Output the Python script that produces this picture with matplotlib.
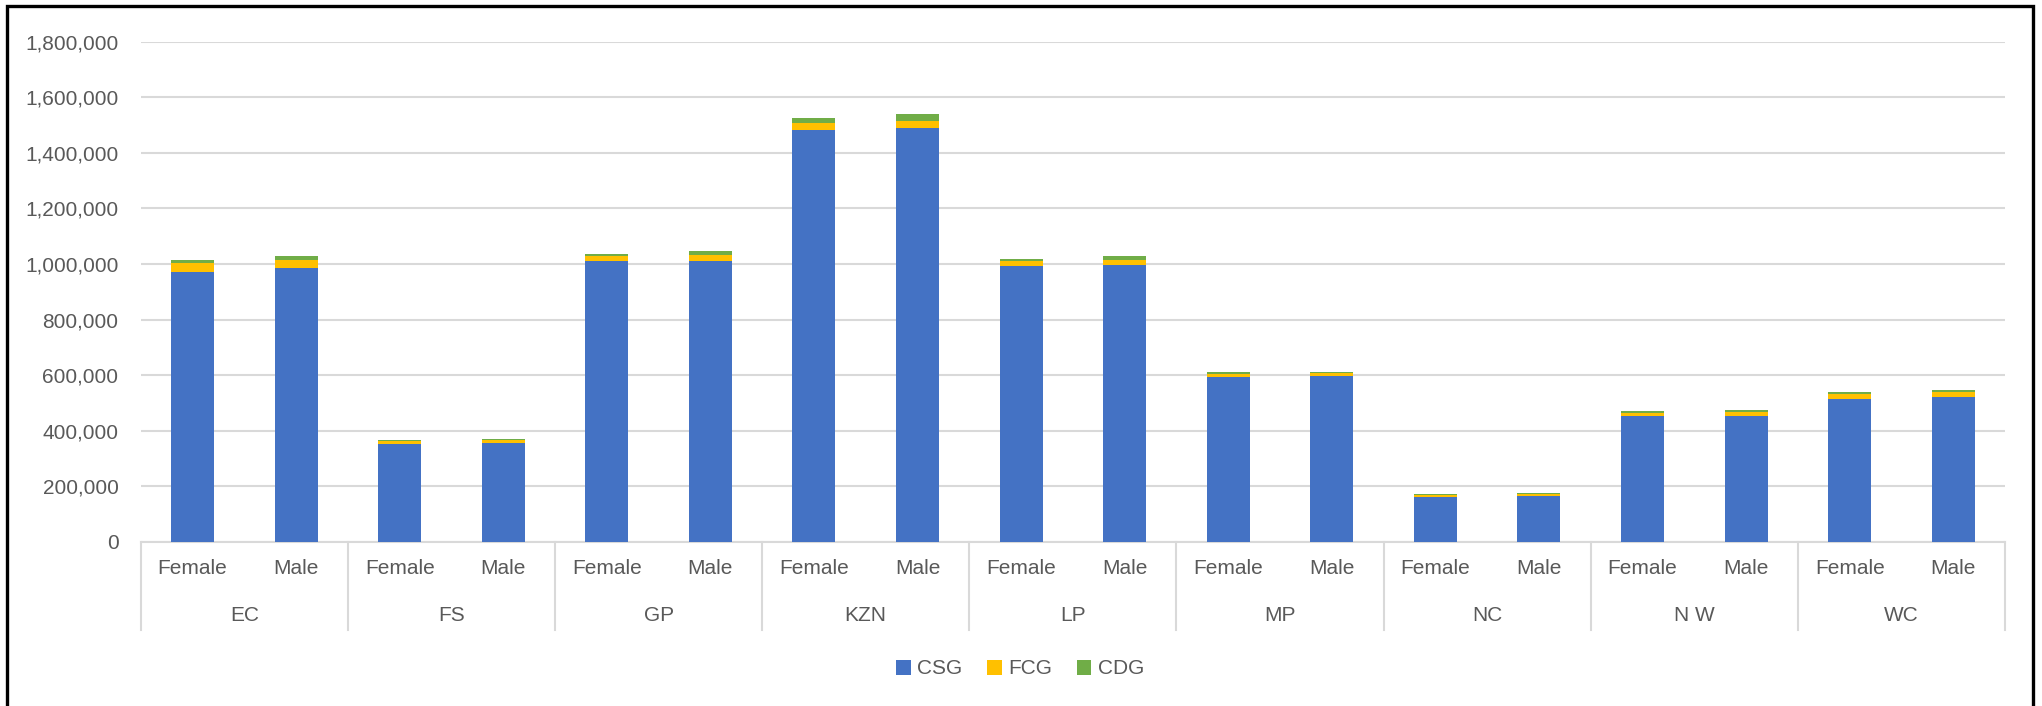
import matplotlib
matplotlib.use("Agg")
import matplotlib.pyplot as plt
import matplotlib.transforms as mtransforms
from matplotlib.patches import Rectangle
from matplotlib.ticker import FuncFormatter
import numpy as np

plt.rcParams['font.family'] = ['Liberation Sans Narrow', 'Liberation Sans', 'DejaVu Sans']

regions = ["EC", "FS", "GP", "KZN", "LP", "MP", "NC", "N W", "WC"]
genders = ["Female", "Male"]

csg_female = [973000, 352000, 1010000, 1482000, 994000, 595000, 163000, 452000, 515000]
fcg_female = [31000, 11000, 19000, 25000, 17000, 11000, 6000, 13000, 19000]
cdg_female = [10000, 4000, 8000, 17000, 8000, 4000, 2000, 5000, 6000]
csg_male = [985000, 355000, 1012000, 1490000, 998000, 596000, 165000, 455000, 520000]
fcg_male = [30000, 12000, 21000, 26000, 18000, 12000, 7000, 14000, 21000]
cdg_male = [15000, 5000, 13000, 24000, 12000, 5000, 3000, 6000, 7000]

yticks = [0, 200000, 400000, 600000, 800000, 1000000, 1200000, 1400000, 1600000, 1800000]

TEXT = "#595959"
GRID = "#D9D9D9"


def interleave(a, b):
    out = []
    for x, y in zip(a, b):
        out += [x, y]
    return np.array(out, dtype=float)


def draw():
    csg = interleave(csg_female, csg_male)
    fcg = interleave(fcg_female, fcg_male)
    cdg = interleave(cdg_female, cdg_male)
    x = np.arange(len(csg))

    fig = plt.figure(figsize=(20.42, 7.06), dpi=100)
    ax = fig.add_axes([0.0689, 0.2323, 0.9130, 0.7087])

    w = 0.415
    ax.bar(x, csg, w, color="#4472C4", label="CSG", zorder=3)
    ax.bar(x, fcg, w, bottom=csg, color="#FFC000", label="FCG", zorder=3)
    ax.bar(x, cdg, w, bottom=csg + fcg, color="#70AD47", label="CDG", zorder=3)

    ax.set_xlim(-0.5, len(x) - 0.5)
    ax.set_ylim(0, 1800000)
    ax.set_yticks(yticks)
    ax.yaxis.set_major_formatter(FuncFormatter(lambda v, p: "{:,.0f}".format(v)))
    ax.grid(axis="y", color=GRID, lw=1.5, zorder=0)
    ax.tick_params(axis="y", length=0, pad=16, labelsize=15, labelcolor=TEXT)

    ax.set_xticks(x)
    ax.set_xticklabels(genders * len(regions))
    ax.tick_params(axis="x", length=0, pad=12, labelsize=15, labelcolor=TEXT)

    for s in ["top", "right", "left"]:
        ax.spines[s].set_visible(False)
    ax.spines["bottom"].set_color(GRID)
    ax.spines["bottom"].set_linewidth(1.5)

    # category group separators and region names
    trans = mtransforms.blended_transform_factory(ax.transData, ax.transAxes)
    for i in range(len(regions) + 1):
        ax.plot([2 * i - 0.5, 2 * i - 0.5], [0, -0.176], transform=trans,
                color=GRID, lw=1.5, clip_on=False)
    for i, r in enumerate(regions):
        ax.text(2 * i + 0.5, -0.146, r, transform=trans, ha="center", va="center",
                fontsize=15, color=TEXT)

    fig.legend(loc="center", bbox_to_anchor=(0.4995, 1 - 669 / 706), ncol=3,
               frameon=False, fontsize=15, handlelength=0.7, handleheight=0.7,
               handletextpad=0.3, columnspacing=1.2, labelcolor=TEXT)

    # chart frame, its bottom edge falls outside the picture
    fig.patches.append(Rectangle((7 / 2042, -0.05), 2026 / 2042, 1.05 - 6 / 706,
                                 transform=fig.transFigure, fill=False,
                                 edgecolor="black", lw=2.4))

    fig.savefig("out.png", dpi=100)


if __name__ == "__main__":
    draw()
